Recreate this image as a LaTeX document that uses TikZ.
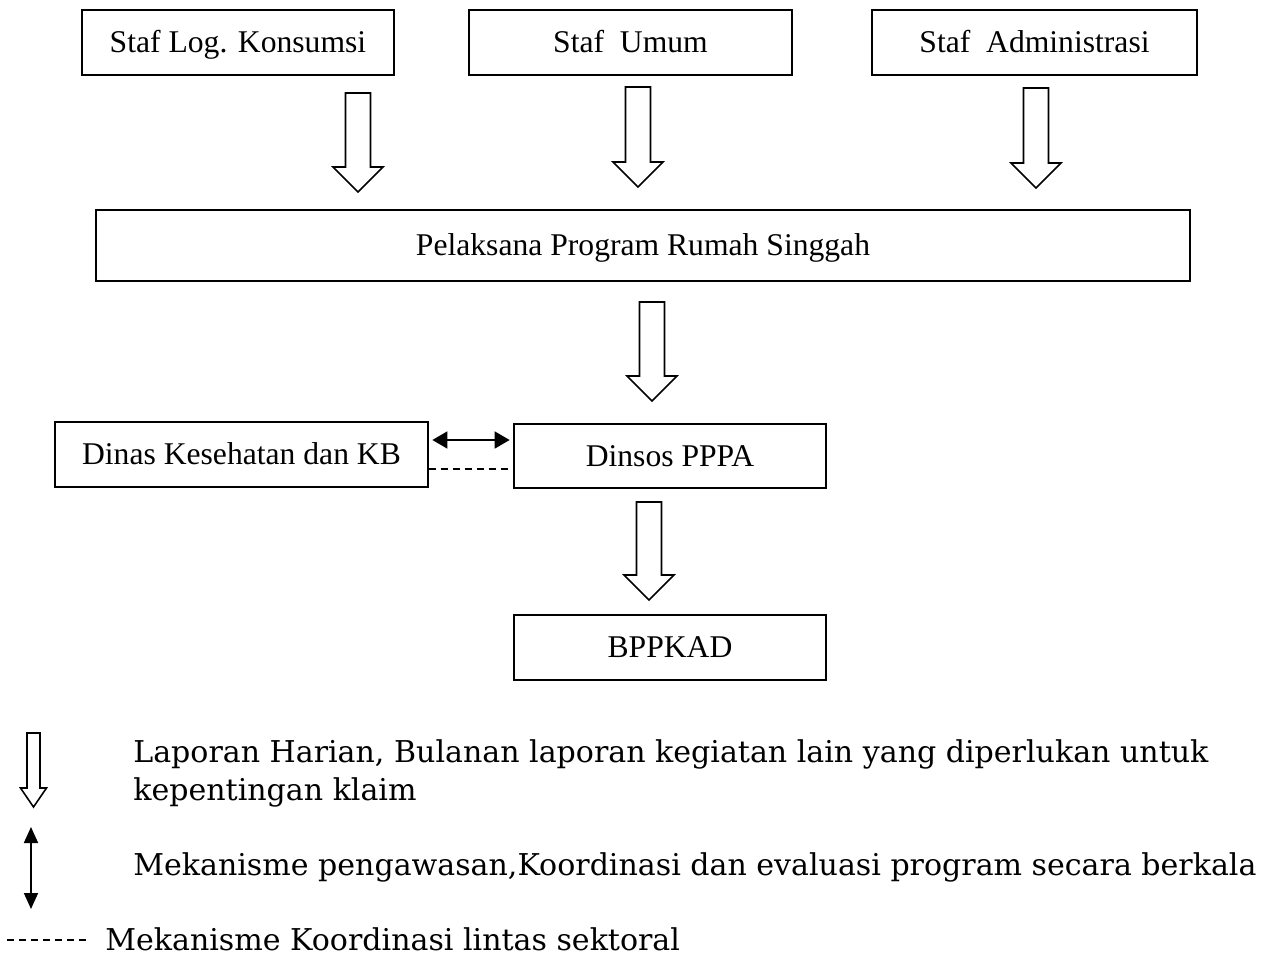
\documentclass[tikz,border=0pt]{standalone}
\usepackage{fontspec}
\setmainfont{Liberation Serif}
\newfontfamily\legendfont{DejaVu Serif}
\usetikzlibrary{arrows.meta}
\usetikzlibrary{positioning}

% hollow arrow: x, top, tip, half shaft, half head, head length
\newcommand{\hollowarrow}[6]{%
  \draw[hollow] (#1-#4,#2) -- (#1+#4,#2) -- (#1+#4,#3-#6) -- (#1+#5,#3-#6)
    -- (#1,#3) -- (#1-#5,#3-#6) -- (#1-#4,#3-#6) -- cycle;}

\begin{document}
\begin{tikzpicture}[x=0.02cm,y=-0.02cm,
  box/.style={draw,line width=1pt,inner sep=0pt,minimum height=1.3cm,text height=12.4pt,text depth=1pt,font=\fontsize{18}{22}\selectfont},
  hollow/.style={draw,line width=0.9pt,fill=white,line join=miter},
  both/.style={line width=1pt,{Triangle[length=0.3cm,width=0.34cm]}-{Triangle[length=0.3cm,width=0.34cm]}},
  sector/.style={line width=0.6pt,dash pattern=on 0.14cm off 0.1cm},
  legend/.style={anchor=base west,inner sep=0pt,font=\legendfont\fontsize{17.1}{21.5}\selectfont,align=left}
]
\useasboundingbox (0,0) rectangle (1267,955);

% staf
\node[box,minimum width=6.24cm] (konsumsi) at (238,42.5) {Staf Log. Konsumsi};
\node[box,minimum width=6.46cm] (umum) at (630.5,42.5) {Staf~ Umum};
\node[box,minimum width=6.5cm] (admin) at (1034.5,42.5) {Staf~ Administrasi};

\node[box,minimum width=21.88cm,minimum height=1.42cm] (pelaksana) at (643,245.5) {Pelaksana Program Rumah Singgah};

\node[box,minimum width=7.46cm] (dinkes) at (241.5,454.5) {Dinas Kesehatan dan KB};
\node[box,minimum width=6.24cm,minimum height=1.28cm] (dinsos) at (670,456) {Dinsos PPPA};
\node[box,minimum width=6.24cm] (bppkad) at (670,647.5) {BPPKAD};

% laporan
\hollowarrow{358}{93}{192}{12.5}{25}{25}
\hollowarrow{638}{87}{187}{12.5}{25}{25}
\hollowarrow{1036}{88}{188}{12.5}{25}{25}
\hollowarrow{652}{302}{401}{12.5}{25}{25}
\hollowarrow{649}{502}{600}{12.5}{25}{25}

% koordinasi
\draw[both,shorten <=2pt,shorten >=2pt] ([yshift=0.29cm]dinkes.east) -- ([yshift=0.29cm]dinkes.east -| dinsos.west);
\draw[sector] ([yshift=-0.29cm]dinkes.east) -- ([yshift=-0.29cm]dinkes.east -| dinsos.west);

% keterangan
\hollowarrow{33.5}{733}{807}{6.5}{13}{19}
\node[legend] (ket1) at (133,800) {Laporan Harian, Bulanan laporan kegiatan lain yang diperlukan untuk\\kepentingan klaim};

\coordinate (up) at (31,827);
\coordinate (down) at (31,909);
\draw[line width=1pt,{Triangle[length=0.32cm,width=0.28cm]}-{Triangle[length=0.32cm,width=0.28cm]}] (up) -- (down);
\node[legend] (ket2) at (133,875) {Mekanisme pengawasan,Koordinasi dan evaluasi program secara berkala};

\coordinate (dl) at (7,940);
\coordinate (dr) at (87,940);
\draw[sector] (dl) -- (dr);
\node[legend] (ket3) at (105,950) {Mekanisme Koordinasi lintas sektoral};
\end{tikzpicture}
\end{document}
